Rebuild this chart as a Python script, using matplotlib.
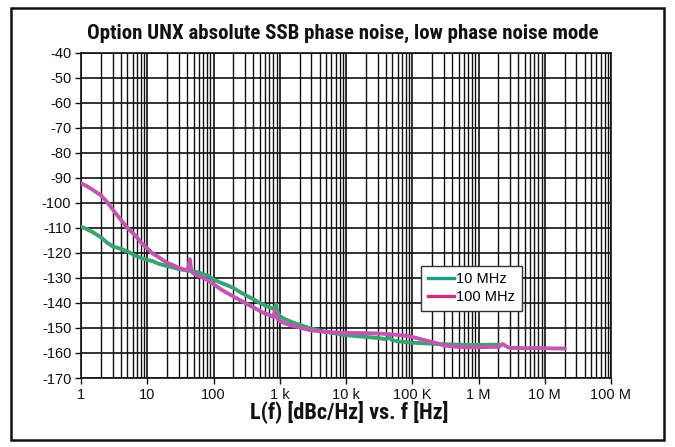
import matplotlib
matplotlib.use("Agg")
import matplotlib.pyplot as plt
from matplotlib.lines import Line2D
from matplotlib.patches import Rectangle
from matplotlib.ticker import FixedLocator, FixedFormatter, NullFormatter

# ---------------- data ----------------
freq_10mhz = [1, 1.2, 1.5, 2, 2.5, 3, 3.5, 4, 5, 6, 7, 8, 10, 12, 15, 20, 25, 30, 40, 50,
              60, 70, 80, 90, 100, 120, 150, 200, 250, 300, 400, 500, 600, 700, 800, 850,
              880, 900, 950, 1000, 1200, 1500, 2000, 2500, 3000, 4000, 5000, 7000, 10e3,
              15e3, 20e3, 30e3, 40e3, 45e3, 50e3, 63e3, 100e3, 150e3, 200e3, 300e3, 500e3,
              700e3, 1e6, 1.5e6, 2e6]
noise_10mhz = [-109.5, -110.4, -111.7, -113.8, -116.0, -117.4, -117.9, -118.4, -119.4, -120.5,
               -121.4, -122.0, -122.8, -123.3, -124.4, -125.3, -125.9, -126.5, -127.0, -127.4,
               -127.8, -128.6, -128.9, -129.8, -130.6, -131.6, -132.6, -134.0, -135.6, -136.8,
               -138.5, -140.0, -141.0, -141.8, -142.3, -142.0, -140.6, -142.6, -144.2, -145.3,
               -146.5, -147.6, -148.8, -149.6, -150.3, -151.0, -151.6, -152.2, -152.9, -153.3,
               -153.6, -154.0, -154.5, -153.8, -154.9, -155.4, -155.9, -156.1, -156.3, -156.5,
               -156.7, -156.8, -156.8, -156.7, -156.7]

freq_100mhz = [1, 1.2, 1.5, 2, 2.5, 3, 4, 5, 6, 7, 8, 10, 12, 15, 20, 25, 30, 35, 40, 42, 44,
               46, 48, 50, 60, 70, 80, 100, 120, 150, 200, 250, 300, 400, 500, 600, 700, 800,
               850, 900, 1000, 1200, 1500, 2000, 2500, 3000, 4000, 5000, 7000, 10e3, 15e3,
               20e3, 30e3, 40e3, 50e3, 70e3, 100e3, 150e3, 200e3, 300e3, 500e3, 700e3, 1e6,
               1.5e6, 2e6, 2.3e6, 2.6e6, 3e6, 4e6, 5e6, 7e6, 10e6, 15e6, 20e6]
noise_100mhz = [-92.2, -93.2, -94.8, -97.0, -99.8, -102.6, -106.8, -110.0, -112.0, -113.8,
                -115.8, -118.2, -120.2, -121.8, -124.0, -125.0, -126.0, -126.5, -127.0, -125.5,
                -122.5, -126.8, -127.9, -128.2, -129.3, -130.0, -130.8, -132.5, -134.0, -135.6,
                -137.4, -138.9, -140.0, -141.8, -143.2, -144.2, -144.8, -145.6, -143.0, -145.8,
                -147.2, -148.2, -149.0, -149.9, -150.5, -151.0, -151.3, -151.6, -151.8, -152.0,
                -152.0, -152.1, -152.2, -152.4, -152.6, -152.9, -153.6, -154.8, -155.6, -157.0,
                -157.6, -157.7, -157.7, -157.6, -157.6, -156.4, -157.3, -158.0, -158.0, -158.1,
                -158.0, -158.1, -158.2, -158.2]

series_labels = ["10 MHz", "100 MHz"]
xtick_values = [1, 10, 100, 1e3, 1e4, 1e5, 1e6, 1e7, 1e8]
xtick_labels = ["1", "10", "100", "1 k", "10 k", "100 K", "1 M", "10 M", "100 M"]
ytick_values = list(range(-170, -39, 10))

title_text = "Option UNX absolute SSB phase noise, low phase noise mode"
xlabel_text = "L(f) [dBc/Hz] vs. f [Hz]"

# ---------------- figure ----------------
W, H = 675, 447
fig = plt.figure(figsize=(W / 100, H / 100), dpi=100)
fig.patch.set_facecolor("white")

# outer border box
fig.patches.append(Rectangle((11 / W, 1 - 440 / H), (664 - 11) / W, (440 - 8) / H,
                             transform=fig.transFigure, fill=False, edgecolor="#111111",
                             linewidth=1.8, zorder=0))

ax = fig.add_axes([81 / W, 1 - 378 / H, (611 - 81) / W, (378 - 52.7) / H])
ax.set_xscale("log")
ax.set_xlim(1, 1e8)
ax.set_ylim(-170, -40)

minor = []
for d in range(8):
    for m in range(2, 10):
        minor.append(m * 10 ** d)
ax.xaxis.set_major_locator(FixedLocator(xtick_values))
ax.xaxis.set_major_formatter(FixedFormatter(xtick_labels))
ax.xaxis.set_minor_locator(FixedLocator(minor))
ax.xaxis.set_minor_formatter(NullFormatter())
ax.set_yticks(ytick_values)
ax.set_yticklabels([str(v) for v in ytick_values])

ax.grid(True, which="major", axis="both", color="#111111", linewidth=1.2)
ax.grid(True, which="minor", axis="x", color="#111111", linewidth=1.0)
ax.set_axisbelow(True)
for s in ax.spines.values():
    s.set_color("#111111")
    s.set_linewidth(1.2)

ax.tick_params(axis="both", which="major", direction="out", length=4, width=1.0,
               color="#111111", labelsize=10.5, pad=3)
ax.tick_params(axis="x", which="minor", length=0)
for lbl in ax.get_xticklabels() + ax.get_yticklabels():
    lbl.set_fontfamily(["Liberation Sans", "DejaVu Sans"])
    lbl.set_color("#111111")

green_line = "#3aa372"
magenta_line = "#c256b0"
ax.plot(freq_10mhz, noise_10mhz, color=green_line, linewidth=2.8, solid_capstyle="round",
        solid_joinstyle="round", zorder=3)
ax.plot(freq_100mhz, noise_100mhz, color=magenta_line, linewidth=2.8, solid_capstyle="round",
        solid_joinstyle="round", zorder=4)

handles = [Line2D([0], [0], color="#1f9a8a", linewidth=2.4),
           Line2D([0], [0], color="#c8307e", linewidth=2.4)]
leg = ax.legend(handles, series_labels, loc="upper left",
                bbox_to_anchor=((421 - 81) / 530, (378 - 265.5) / 325.3),
                frameon=True, fancybox=False, framealpha=1, edgecolor="#333333",
                prop={"family": ["Liberation Sans", "DejaVu Sans"], "size": 10.5},
                handlelength=1.8, handletextpad=0.15, borderpad=0.45, labelspacing=0.3,
                borderaxespad=0)
leg.get_frame().set_linewidth(1.0)

bold_font = ["Liberation Sans Narrow", "Roboto Condensed", "DejaVu Sans"]
fig.text(343 / W, 1 - 33 / H, title_text, ha="center", va="center",
         fontsize=15, fontweight="bold", family=bold_font, color="#111111")
fig.text(349 / W, 1 - 412 / H, xlabel_text, ha="center", va="center",
         fontsize=16, fontweight="bold", family=bold_font, color="#111111")

fig.savefig("out.png", dpi=100, facecolor="white")
